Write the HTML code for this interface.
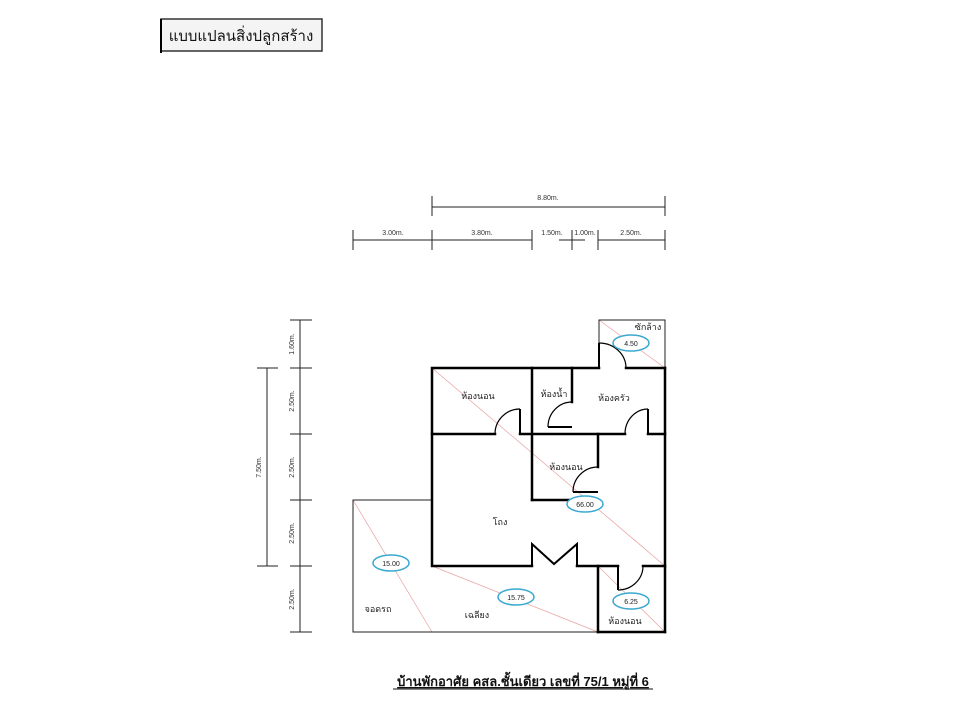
<!DOCTYPE html>
<html><head><meta charset="utf-8"><style>
body{margin:0;background:#fff;width:960px;height:720px;overflow:hidden}
svg{display:block}
text{font-family:"Liberation Sans","Noto Sans CJK SC",sans-serif}
</style></head><body>
<svg width="960" height="720" viewBox="0 0 960 720" xmlns="http://www.w3.org/2000/svg">
<rect x="161" y="19" width="161" height="32" fill="#f4f4f4" stroke="#333" stroke-width="1.5"/>
<line x1="161" y1="19" x2="161" y2="53" stroke="#000" stroke-width="2"/>
<text x="241" y="41" font-size="15" text-anchor="middle" fill="#111">แบบแปลนสิ่งปลูกสร้าง</text>

<!-- top dims -->
<g stroke="#222" stroke-width="1">
<line x1="432" y1="207" x2="665" y2="207"/>
<line x1="432" y1="196" x2="432" y2="216"/><line x1="665" y1="196" x2="665" y2="216"/>
<line x1="353" y1="240" x2="532" y2="240"/>
<line x1="598" y1="240" x2="665" y2="240"/>
<line x1="559" y1="240" x2="585" y2="240"/>
<line x1="353" y1="230" x2="353" y2="250"/><line x1="432" y1="230" x2="432" y2="250"/><line x1="532" y1="230" x2="532" y2="250"/>
<line x1="572" y1="230" x2="572" y2="250"/><line x1="598" y1="230" x2="598" y2="250"/><line x1="665" y1="230" x2="665" y2="250"/>
</g>
<g font-size="7" fill="#333" text-anchor="middle">
<text x="548" y="200">8.80m.</text>
<text x="393" y="235">3.00m.</text>
<text x="482" y="235">3.80m.</text>
<text x="552" y="235">1.50m.</text>
<text x="585" y="235">1.00m.</text>
<text x="631" y="235">2.50m.</text>
</g>

<!-- left dims -->
<g stroke="#222" stroke-width="1">
<line x1="300" y1="320" x2="300" y2="632"/>
<line x1="290" y1="320" x2="312" y2="320"/><line x1="290" y1="368" x2="312" y2="368"/><line x1="290" y1="434" x2="312" y2="434"/>
<line x1="290" y1="500" x2="312" y2="500"/><line x1="290" y1="566" x2="312" y2="566"/><line x1="290" y1="632" x2="312" y2="632"/>
<line x1="267" y1="368" x2="267" y2="566"/>
<line x1="257" y1="368" x2="278" y2="368"/><line x1="257" y1="566" x2="278" y2="566"/>
</g>
<g font-size="7" fill="#333" text-anchor="middle">
<text transform="translate(294,344) rotate(-90)">1.60m.</text>
<text transform="translate(294,401) rotate(-90)">2.50m.</text>
<text transform="translate(294,467) rotate(-90)">2.50m.</text>
<text transform="translate(294,533) rotate(-90)">2.50m.</text>
<text transform="translate(294,599) rotate(-90)">2.50m.</text>
<text transform="translate(261,467) rotate(-90)">7.50m.</text>
</g>

<!-- red diagonals -->
<g stroke="#e8a0a0" stroke-width="0.7">
<line x1="432" y1="368" x2="665" y2="566"/>
<line x1="599" y1="320" x2="665" y2="368"/>
<line x1="353" y1="500" x2="432" y2="632"/>
<line x1="432" y1="566" x2="598" y2="632"/>
<line x1="598" y1="566" x2="665" y2="632"/>
</g>

<!-- thin outlines -->
<g stroke="#222" stroke-width="1" fill="none">
<polyline points="599,368 599,320 665,320 665,368"/>
<polyline points="432,500 353,500 353,632 598,632"/>
</g>

<!-- thick walls -->
<g stroke="#000" stroke-width="2.5" fill="none" stroke-linecap="square">
<polyline points="599,368 432,368 432,566 532,566"/>
<line x1="626" y1="368" x2="665" y2="368"/>
<line x1="665" y1="368" x2="665" y2="632"/>
<line x1="598" y1="632" x2="665" y2="632"/>
<line x1="598" y1="566" x2="598" y2="632"/>
<line x1="577" y1="566" x2="618" y2="566"/>
<line x1="643" y1="566" x2="665" y2="566"/>
<line x1="532" y1="368" x2="532" y2="500"/>
<line x1="532" y1="500" x2="598" y2="500"/>
<line x1="598" y1="434" x2="598" y2="467"/>
<line x1="572" y1="368" x2="572" y2="402"/>
<line x1="432" y1="434" x2="495" y2="434"/>
<line x1="520" y1="434" x2="625" y2="434"/>
<line x1="648" y1="434" x2="665" y2="434"/>
</g>
<!-- doors -->
<g stroke="#000" stroke-width="2" fill="none">
<line x1="520" y1="434" x2="520" y2="409"/>
<line x1="648" y1="434" x2="648" y2="409"/>
<line x1="599" y1="368" x2="599" y2="343"/>
<line x1="548" y1="427" x2="572" y2="427"/>
<line x1="573" y1="492" x2="598" y2="492"/>
<line x1="618" y1="566" x2="618" y2="590"/>
<polyline points="532,566 532,544 554,564 577,544 577,566"/>
</g>
<g stroke="#000" stroke-width="1.2" fill="none">
<path d="M495,434 A25,25 0 0 1 520,409"/>
<path d="M625,434 A23,25 0 0 1 648,409"/>
<path d="M599,343 A27,25 0 0 1 626,368"/>
<path d="M548,427 A24,25 0 0 1 572,402"/>
<path d="M573,492 A25,25 0 0 1 598,467"/>
<path d="M618,590 A25,24 0 0 0 643,566"/>
</g>

<!-- labels -->
<g font-size="9" fill="#222" text-anchor="middle">
<text x="648" y="330">ซักล้าง</text>
<text x="478" y="399">ห้องนอน</text>
<text x="554" y="397">ห้องน้ำ</text>
<text x="614" y="401">ห้องครัว</text>
<text x="566" y="470">ห้องนอน</text>
<text x="500" y="525">โถง</text>
<text x="378" y="612">จอดรถ</text>
<text x="477" y="618">เฉลียง</text>
<text x="625" y="624">ห้องนอน</text>
</g>
<g stroke="#3aa8d0" stroke-width="1.5" fill="#fff">
<ellipse cx="631" cy="343" rx="18" ry="8"/>
<ellipse cx="585" cy="504" rx="18" ry="8"/>
<ellipse cx="391" cy="563" rx="18" ry="8"/>
<ellipse cx="516" cy="597" rx="18" ry="8"/>
<ellipse cx="631" cy="601" rx="18" ry="8"/>
</g>
<g font-size="7" fill="#222" text-anchor="middle">
<text x="631" y="346">4.50</text>
<text x="585" y="507">66.00</text>
<text x="391" y="566">15.00</text>
<text x="516" y="600">15.75</text>
<text x="631" y="604">6.25</text>
</g>

<text x="523" y="686" font-size="13" font-weight="bold" text-anchor="middle" fill="#111" text-decoration="underline">บ้านพักอาศัย คสล.ชั้นเดียว เลขที่ 75/1  หมู่ที่ 6</text>
<line x1="393" y1="689" x2="653" y2="689" stroke="#111" stroke-width="1"/>
</svg>
</body></html>
